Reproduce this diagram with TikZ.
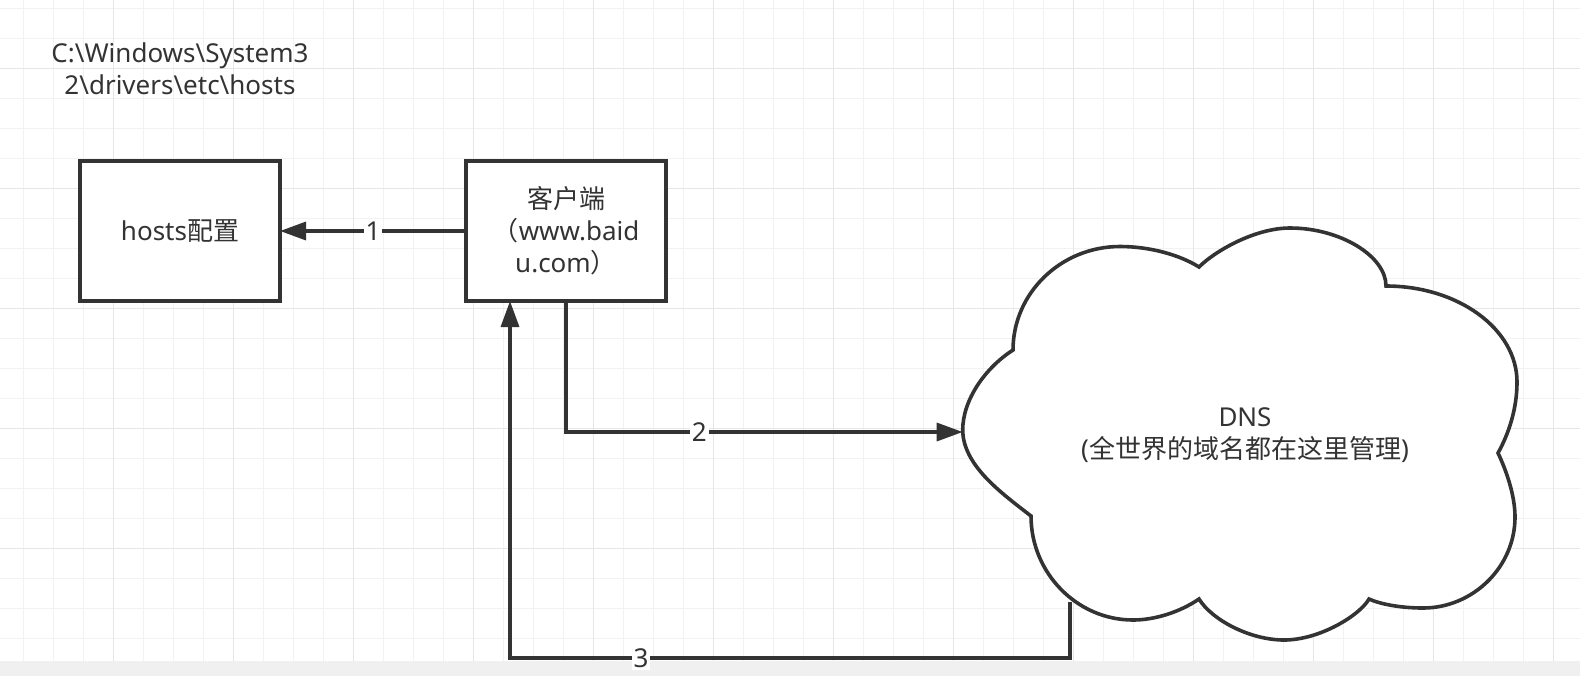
\documentclass[tikz,border=0pt]{standalone}
\usepackage{fontspec}
\setmainfont{Noto Sans}
\newfontfamily\cjk{Noto Sans CJK SC}
\usetikzlibrary{arrows.meta}
\definecolor{ink}{HTML}{333333}
\definecolor{gridminor}{HTML}{F2F2F2}
\definecolor{gridmajor}{HTML}{E6E6E6}
\definecolor{bandgray}{HTML}{F0F0F0}
\begin{document}
\begin{tikzpicture}[x=0.75pt,y=-0.75pt,
  every node/.style={font=\fontsize{19.5}{24}\selectfont, text=ink},
  box/.style={draw=ink, line width=2.9pt, fill=white, minimum width=150pt, minimum height=105pt, outer sep=0pt, inner sep=0pt, align=center},
  conn/.style={draw=ink, line width=2.5pt, -{Triangle[length=19.5pt,width=13.5pt]}},
  lbl/.style={fill=white, inner sep=1.5pt},
  minorline/.style={draw=gridminor, line width=1.2pt},
  majorline/.style={draw=gridmajor, line width=1.2pt},
  cloudline/.style={draw=ink, line width=2.7pt, fill=white, line join=miter}]
\useasboundingbox (0,0) rectangle (1580,676);
% grid
\foreach \i in {0,...,52} \draw[minorline] ({23.33+30*\i},0) -- ({23.33+30*\i},660.7);
\foreach \i in {0,...,21} \draw[minorline] (0,{8.33+30*\i}) -- (1580,{8.33+30*\i});
\foreach \i in {0,...,12} \draw[majorline] ({113.33+120*\i},0) -- ({113.33+120*\i},660.7);
\foreach \i in {0,...,4} \draw[majorline] (0,{68.33+120*\i}) -- (1580,{68.33+120*\i});
\fill[bandgray] (0,660.7) rectangle (1580,676);
% text above
\node[align=center] (path) at (180,69) {C:\textbackslash Windows\textbackslash System3\\2\textbackslash drivers\textbackslash etc\textbackslash hosts};
% boxes
\node[box] (hosts) at (180,231) {hosts{\cjk 配置}};
\node[box] (client) at (566,231) {{\cjk 客户端}\\{\cjk （}www.baid\\u.com{\cjk ）}};
% cloud
\draw[cloudline]
  (1013,350) .. controls (1013,293) and (1061,246.5) .. (1120,246.5)
  .. controls (1150,246.5) and (1180,255) .. (1199,267)
  .. controls (1215,251) and (1255,228) .. (1290,228)
  .. controls (1340,228) and (1386,256) .. (1386,286)
  .. controls (1458,286) and (1517,329) .. (1517,382)
  .. controls (1517,410) and (1508,435) .. (1498,453)
  .. controls (1506,470) and (1515,495) .. (1515,517)
  .. controls (1515,567) and (1473,608) .. (1423,608)
  .. controls (1400,608) and (1380,604) .. (1369,599)
  .. controls (1360,615) and (1320,640) .. (1284,640)
  .. controls (1250,640) and (1212,620) .. (1199,599)
  .. controls (1180,612) and (1155,620) .. (1133,620)
  .. controls (1077,620) and (1031,573) .. (1031,516)
  .. controls (1000,492) and (963,465) .. (962.7,430)
  .. controls (962.7,400) and (985,368) .. (1013,350)
  -- cycle;
\node[align=center] (dns) at (1245,435) {DNS\\({\cjk 全世界的域名都在这里管理})};
\coordinate (dnsW) at (962.7,432);
\coordinate (dnsS) at (1070,601.7);
\coordinate (c3a) at (1070,658);
\coordinate (c3b) at (510,658);
% connectors
\draw[conn] (client.west) -- node[lbl]{1} (hosts.east);
\draw[conn] (client.south) |- node[lbl,pos=0.668]{2} (dnsW);
\draw[conn] (dnsS) -- (c3a) -- node[lbl,pos=0.766]{3} (c3b) -- (client.south -| c3b);
\end{tikzpicture}
\end{document}
